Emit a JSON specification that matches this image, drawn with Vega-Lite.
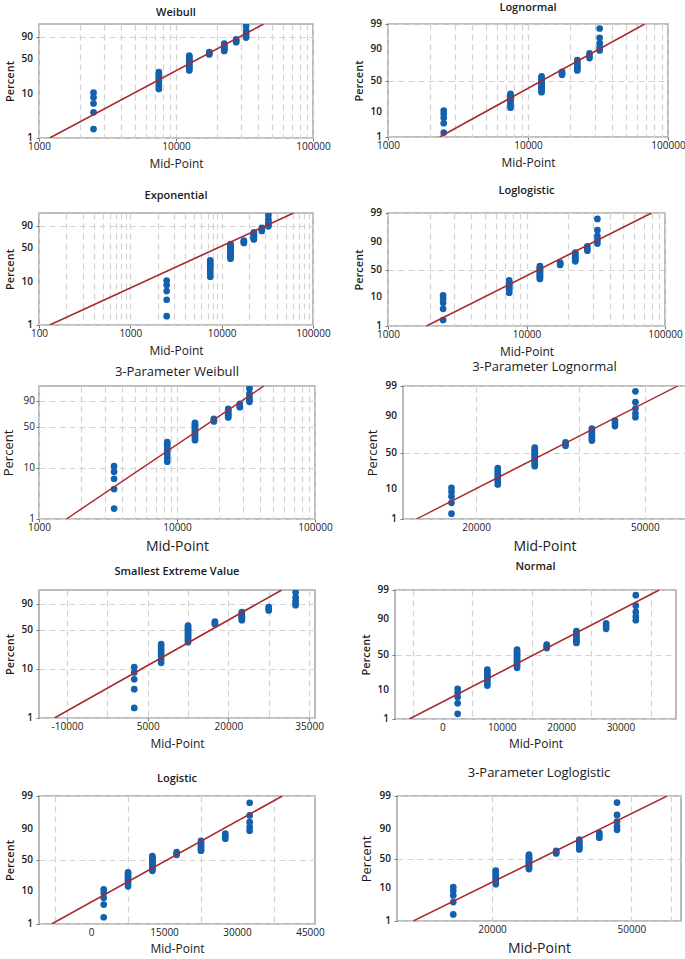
{
"$schema": "https://vega.github.io/schema/vega-lite/v6.json",
"background": "white",
"padding": {"left": 1, "top": 1, "right": 0, "bottom": 0},
"datasets": {
"pts": [
{"i":1,"pct":1.61,"mid":2500,"x3w":3500,"x3n":17500,"x3l":15500,"w":-4.1190,"z":-2.1410,"l":-4.1109},
{"i":2,"pct":3.92,"mid":2500,"x3w":3500,"x3n":17500,"x3l":15500,"w":-3.2199,"z":-1.7600,"l":-3.1999},
{"i":3,"pct":6.22,"mid":2500,"x3w":3500,"x3n":17500,"x3l":15500,"w":-2.7453,"z":-1.5365,"l":-2.7130},
{"i":4,"pct":8.53,"mid":2500,"x3w":3500,"x3n":17500,"x3l":15500,"w":-2.4179,"z":-1.3706,"l":-2.3730},
{"i":5,"pct":10.83,"mid":2500,"x3w":3500,"x3n":17500,"x3l":15500,"w":-2.1662,"z":-1.2357,"l":-2.1084},
{"i":6,"pct":13.13,"mid":7500,"x3w":8500,"x3n":22500,"x3l":20500,"w":-1.9604,"z":-1.1199,"l":-1.8892},
{"i":7,"pct":15.44,"mid":7500,"x3w":8500,"x3n":22500,"x3l":20500,"w":-1.7857,"z":-1.0178,"l":-1.7006},
{"i":8,"pct":17.74,"mid":7500,"x3w":8500,"x3n":22500,"x3l":20500,"w":-1.6332,"z":-0.9253,"l":-1.5339},
{"i":9,"pct":20.05,"mid":7500,"x3w":8500,"x3n":22500,"x3l":20500,"w":-1.4974,"z":-0.8400,"l":-1.3834},
{"i":10,"pct":22.35,"mid":7500,"x3w":8500,"x3n":22500,"x3l":20500,"w":-1.3745,"z":-0.7595,"l":-1.2454},
{"i":11,"pct":24.65,"mid":7500,"x3w":8500,"x3n":22500,"x3l":20500,"w":-1.2620,"z":-0.6854,"l":-1.1171},
{"i":12,"pct":26.96,"mid":7500,"x3w":8500,"x3n":22500,"x3l":20500,"w":-1.1579,"z":-0.6141,"l":-0.9967},
{"i":13,"pct":29.26,"mid":7500,"x3w":8500,"x3n":22500,"x3l":20500,"w":-1.0607,"z":-0.5457,"l":-0.8826},
{"i":14,"pct":31.57,"mid":12500,"x3w":13500,"x3n":27500,"x3l":25500,"w":-0.9694,"z":-0.4798,"l":-0.7737},
{"i":15,"pct":33.87,"mid":12500,"x3w":13500,"x3n":27500,"x3l":25500,"w":-0.8829,"z":-0.4160,"l":-0.6691},
{"i":16,"pct":36.18,"mid":12500,"x3w":13500,"x3n":27500,"x3l":25500,"w":-0.8007,"z":-0.3538,"l":-0.5678},
{"i":17,"pct":38.48,"mid":12500,"x3w":13500,"x3n":27500,"x3l":25500,"w":-0.7220,"z":-0.2929,"l":-0.4693},
{"i":18,"pct":40.78,"mid":12500,"x3w":13500,"x3n":27500,"x3l":25500,"w":-0.6463,"z":-0.2331,"l":-0.3729},
{"i":19,"pct":43.09,"mid":12500,"x3w":13500,"x3n":27500,"x3l":25500,"w":-0.5733,"z":-0.1741,"l":-0.2783},
{"i":20,"pct":45.39,"mid":12500,"x3w":13500,"x3n":27500,"x3l":25500,"w":-0.5025,"z":-0.1158,"l":-0.1848},
{"i":21,"pct":47.70,"mid":12500,"x3w":13500,"x3n":27500,"x3l":25500,"w":-0.4337,"z":-0.0578,"l":-0.0922},
{"i":22,"pct":50.00,"mid":12500,"x3w":13500,"x3n":27500,"x3l":25500,"w":-0.3665,"z":0,"l":0},
{"i":23,"pct":52.30,"mid":12500,"x3w":13500,"x3n":27500,"x3l":25500,"w":-0.3007,"z":0.0578,"l":0.0922},
{"i":24,"pct":54.61,"mid":12500,"x3w":13500,"x3n":27500,"x3l":25500,"w":-0.2359,"z":0.1158,"l":0.1848},
{"i":25,"pct":56.91,"mid":12500,"x3w":13500,"x3n":27500,"x3l":25500,"w":-0.1721,"z":0.1741,"l":0.2783},
{"i":26,"pct":59.22,"mid":17500,"x3w":18500,"x3n":32500,"x3l":30500,"w":-0.1088,"z":0.2331,"l":0.3729},
{"i":27,"pct":61.52,"mid":17500,"x3w":18500,"x3n":32500,"x3l":30500,"w":-0.0460,"z":0.2929,"l":0.4693},
{"i":28,"pct":63.82,"mid":17500,"x3w":18500,"x3n":32500,"x3l":30500,"w":0.0167,"z":0.3538,"l":0.5678},
{"i":29,"pct":66.13,"mid":22500,"x3w":23500,"x3n":37500,"x3l":35500,"w":0.0794,"z":0.4160,"l":0.6691},
{"i":30,"pct":68.43,"mid":22500,"x3w":23500,"x3n":37500,"x3l":35500,"w":0.1424,"z":0.4798,"l":0.7737},
{"i":31,"pct":70.74,"mid":22500,"x3w":23500,"x3n":37500,"x3l":35500,"w":0.2061,"z":0.5457,"l":0.8826},
{"i":32,"pct":73.04,"mid":22500,"x3w":23500,"x3n":37500,"x3l":35500,"w":0.2707,"z":0.6141,"l":0.9967},
{"i":33,"pct":75.35,"mid":22500,"x3w":23500,"x3n":37500,"x3l":35500,"w":0.3366,"z":0.6854,"l":1.1171},
{"i":34,"pct":77.65,"mid":22500,"x3w":23500,"x3n":37500,"x3l":35500,"w":0.4044,"z":0.7595,"l":1.2454},
{"i":35,"pct":79.95,"mid":22500,"x3w":23500,"x3n":37500,"x3l":35500,"w":0.4745,"z":0.8400,"l":1.3834},
{"i":36,"pct":82.26,"mid":27500,"x3w":28500,"x3n":42500,"x3l":40500,"w":0.5477,"z":0.9253,"l":1.5339},
{"i":37,"pct":84.56,"mid":27500,"x3w":28500,"x3n":42500,"x3l":40500,"w":0.6250,"z":1.0178,"l":1.7006},
{"i":38,"pct":86.87,"mid":27500,"x3w":28500,"x3n":42500,"x3l":40500,"w":0.7080,"z":1.1199,"l":1.8892},
{"i":39,"pct":89.17,"mid":32500,"x3w":33500,"x3n":47500,"x3l":45500,"w":0.7988,"z":1.2357,"l":2.1084},
{"i":40,"pct":91.47,"mid":32500,"x3w":33500,"x3n":47500,"x3l":45500,"w":0.9010,"z":1.3706,"l":2.3730},
{"i":41,"pct":93.78,"mid":32500,"x3w":33500,"x3n":47500,"x3l":45500,"w":1.0215,"z":1.5365,"l":2.7130},
{"i":42,"pct":96.08,"mid":32500,"x3w":33500,"x3n":47500,"x3l":45500,"w":1.1755,"z":1.7600,"l":3.1999},
{"i":43,"pct":98.39,"mid":32500,"x3w":33500,"x3n":47500,"x3l":45500,"w":1.4176,"z":2.1410,"l":4.1109}
],
"lines": [
{"p":"weibull","x":1196,"y":-4.6002},{"p":"weibull","x":43650,"y":1.5272},
{"p":"lognormal","x":2339,"y":-2.3263},{"p":"lognormal","x":68100,"y":2.3263},
{"p":"exponential","x":131,"y":-4.6002},{"p":"exponential","x":61400,"y":1.5272},
{"p":"loglogistic","x":1896,"y":-4.5951},{"p":"loglogistic","x":80000,"y":4.5951},
{"p":"weibull3","x":1578,"y":-4.6002},{"p":"weibull3","x":42660,"y":1.5272},
{"p":"lognormal3","x":14470,"y":-2.3263},{"p":"lognormal3","x":59750,"y":2.3263},
{"p":"sev","x":-12327,"y":-4.6002},{"p":"sev","x":29918,"y":1.5272},
{"p":"normal","x":-5634,"y":-2.3263},{"p":"normal","x":36450,"y":2.3263},
{"p":"logistic","x":-8200,"y":-4.5951},{"p":"logistic","x":39230,"y":4.5951},
{"p":"loglogistic3","x":11920,"y":-4.5951},{"p":"loglogistic3","x":63230,"y":4.5951}
],
"yw": [{"v":-4.6002,"t":"1"},{"v":-2.2504,"t":"10"},{"v":-0.3665,"t":"50"},{"v":0.834,"t":"90"}],
"yn": [{"v":-2.3263,"t":"1"},{"v":-1.2816,"t":"10"},{"v":0,"t":"50"},{"v":1.2816,"t":"90"},{"v":2.3263,"t":"99"}],
"yl": [{"v":-4.5951,"t":"1"},{"v":-2.1972,"t":"10"},{"v":0,"t":"50"},{"v":2.1972,"t":"90"},{"v":4.5951,"t":"99"}],
"xn": [{"v":0,"t":"0"},{"v":10000,"t":"10000"},{"v":20000,"t":"20000"},{"v":30000,"t":"30000"}],
"xlg": [{"v":0,"t":"0"},{"v":15000,"t":"15000"},{"v":30000,"t":"30000"},{"v":45000,"t":"45000"}]
},
"vconcat": [
{"hconcat": [
{"title": {"text": "Weibull", "offset": 6},
 "width": 274, "height": 114,
 "layer": [
 {"data": {"name": "pts"}, "mark": {"type": "circle", "size": 45, "opacity": 1, "color": "#1360ae", "clip": true},
  "encoding": {
   "x": {"field": "mid", "type": "quantitative", "title": "Mid-Point", "scale": {"type": "log", "domain": [1000, 100000], "nice": false},
    "axis": {"values": [1000,2000,3000,4000,5000,6000,7000,8000,9000,10000,20000,30000,40000,50000,60000,70000,80000,90000,100000],
     "labelExpr": "indexof([1000,10000,100000], datum.value) >= 0 ? '' + datum.value : ''",
     "tickOpacity": {"condition": {"test": "indexof([1000,10000,100000], datum.value) >= 0", "value": 1}, "value": 0}}},
   "y": {"field": "w", "type": "quantitative", "title": "Percent", "scale": {"domain": [-4.6002, 1.5272], "nice": false, "zero": false},
    "axis": {"labels": false, "values": [-4.6002, -2.2504, -0.3665, 0.834]}}}},
 {"data": {"name": "lines"}, "transform": [{"filter": "datum.p == 'weibull'"}],
  "mark": {"type": "line", "color": "#a8282b", "strokeWidth": 1.6, "clip": true},
  "encoding": {"x": {"field": "x", "type": "quantitative", "title": "Mid-Point"}, "y": {"field": "y", "type": "quantitative", "title": "Percent"}}},
 {"data": {"name": "yw"}, "mark": {"type": "text", "align": "right", "baseline": "middle", "dx": -6, "fontSize": 10, "fontWeight": 600, "color": "#1a1a1a"},
  "encoding": {"x": {"datum": 1000, "type": "quantitative", "title": "Mid-Point"}, "y": {"field": "v", "type": "quantitative", "title": "Percent"}, "text": {"field": "t"}}}
 ]},
{"title": {"text": "Lognormal", "offset": 6},
 "width": 280, "height": 113,
 "layer": [
 {"data": {"name": "pts"}, "mark": {"type": "circle", "size": 45, "opacity": 1, "color": "#1360ae", "clip": true},
  "encoding": {
   "x": {"field": "mid", "type": "quantitative", "title": "Mid-Point", "scale": {"type": "log", "domain": [1000, 100000], "nice": false},
    "axis": {"values": [1000,2000,3000,4000,5000,6000,7000,8000,9000,10000,20000,30000,40000,50000,60000,70000,80000,90000,100000],
     "labelExpr": "indexof([1000,10000,100000], datum.value) >= 0 ? '' + datum.value : ''",
     "tickOpacity": {"condition": {"test": "indexof([1000,10000,100000], datum.value) >= 0", "value": 1}, "value": 0}}},
   "y": {"field": "z", "type": "quantitative", "title": "Percent", "scale": {"domain": [-2.3263, 2.3263], "nice": false, "zero": false},
    "axis": {"labels": false, "values": [-2.3263, -1.2816, 0, 1.2816, 2.3263]}}}},
 {"data": {"name": "lines"}, "transform": [{"filter": "datum.p == 'lognormal'"}],
  "mark": {"type": "line", "color": "#a8282b", "strokeWidth": 1.6, "clip": true},
  "encoding": {"x": {"field": "x", "type": "quantitative", "title": "Mid-Point"}, "y": {"field": "y", "type": "quantitative", "title": "Percent"}}},
 {"data": {"name": "yn"}, "mark": {"type": "text", "align": "right", "baseline": "middle", "dx": -6, "fontSize": 10, "fontWeight": 600, "color": "#1a1a1a"},
  "encoding": {"x": {"datum": 1000, "type": "quantitative", "title": "Mid-Point"}, "y": {"field": "v", "type": "quantitative", "title": "Percent"}, "text": {"field": "t"}}}
 ]}
], "spacing": 21},
{"hconcat": [
{"title": {"text": ["", "Exponential"], "lineHeight": 11.5, "offset": 12.5},
 "width": 274, "height": 112,
 "layer": [
 {"data": {"name": "pts"}, "mark": {"type": "circle", "size": 45, "opacity": 1, "color": "#1360ae", "clip": true},
  "encoding": {
   "x": {"field": "mid", "type": "quantitative", "title": "Mid-Point", "scale": {"type": "log", "domain": [100, 100000], "nice": false},
    "axis": {"values": [100,200,300,400,500,600,700,800,900,1000,2000,3000,4000,5000,6000,7000,8000,9000,10000,20000,30000,40000,50000,60000,70000,80000,90000,100000],
     "labelExpr": "indexof([100,1000,10000,100000], datum.value) >= 0 ? '' + datum.value : ''",
     "tickOpacity": {"condition": {"test": "indexof([100,1000,10000,100000], datum.value) >= 0", "value": 1}, "value": 0}}},
   "y": {"field": "w", "type": "quantitative", "title": "Percent", "scale": {"domain": [-4.6002, 1.5272], "nice": false, "zero": false},
    "axis": {"labels": false, "values": [-4.6002, -2.2504, -0.3665, 0.834]}}}},
 {"data": {"name": "lines"}, "transform": [{"filter": "datum.p == 'exponential'"}],
  "mark": {"type": "line", "color": "#a8282b", "strokeWidth": 1.6, "clip": true},
  "encoding": {"x": {"field": "x", "type": "quantitative", "title": "Mid-Point"}, "y": {"field": "y", "type": "quantitative", "title": "Percent"}}},
 {"data": {"name": "yw"}, "mark": {"type": "text", "align": "right", "baseline": "middle", "dx": -6, "fontSize": 10, "fontWeight": 600, "color": "#1a1a1a"},
  "encoding": {"x": {"datum": 100, "type": "quantitative", "title": "Mid-Point"}, "y": {"field": "v", "type": "quantitative", "title": "Percent"}, "text": {"field": "t"}}}
 ]},
{"title": {"text": ["", "Loglogistic"], "lineHeight": 11.5, "offset": 12.5},
 "width": 277, "height": 113,
 "layer": [
 {"data": {"name": "pts"}, "mark": {"type": "circle", "size": 45, "opacity": 1, "color": "#1360ae", "clip": true},
  "encoding": {
   "x": {"field": "mid", "type": "quantitative", "title": "Mid-Point", "scale": {"type": "log", "domain": [1000, 100000], "nice": false},
    "axis": {"values": [1000,2000,3000,4000,5000,6000,7000,8000,9000,10000,20000,30000,40000,50000,60000,70000,80000,90000,100000],
     "labelExpr": "indexof([1000,10000,100000], datum.value) >= 0 ? '' + datum.value : ''",
     "tickOpacity": {"condition": {"test": "indexof([1000,10000,100000], datum.value) >= 0", "value": 1}, "value": 0}}},
   "y": {"field": "l", "type": "quantitative", "title": "Percent", "scale": {"domain": [-4.5951, 4.5951], "nice": false, "zero": false},
    "axis": {"labels": false, "values": [-4.5951, -2.1972, 0, 2.1972, 4.5951]}}}},
 {"data": {"name": "lines"}, "transform": [{"filter": "datum.p == 'loglogistic'"}],
  "mark": {"type": "line", "color": "#a8282b", "strokeWidth": 1.6, "clip": true},
  "encoding": {"x": {"field": "x", "type": "quantitative", "title": "Mid-Point"}, "y": {"field": "y", "type": "quantitative", "title": "Percent"}}},
 {"data": {"name": "yl"}, "mark": {"type": "text", "align": "right", "baseline": "middle", "dx": -6, "fontSize": 10, "fontWeight": 600, "color": "#1a1a1a"},
  "encoding": {"x": {"datum": 1000, "type": "quantitative", "title": "Mid-Point"}, "y": {"field": "v", "type": "quantitative", "title": "Percent"}, "text": {"field": "t"}}}
 ]}
], "spacing": 21},
{"hconcat": [
{"title": {"text": "3-Parameter Weibull", "offset": 7, "fontSize": 13, "fontWeight": 400},
 "width": 276, "height": 133,
 "layer": [
 {"data": {"name": "pts"}, "mark": {"type": "circle", "size": 45, "opacity": 1, "color": "#1360ae", "clip": true},
  "encoding": {
   "x": {"field": "x3w", "type": "quantitative", "title": "Mid-Point", "scale": {"type": "log", "domain": [1000, 100000], "nice": false},
    "axis": {"titleFontSize": 14, "values": [1000,2000,3000,4000,5000,6000,7000,8000,9000,10000,20000,30000,40000,50000,60000,70000,80000,90000,100000],
     "labelExpr": "indexof([1000,10000,100000], datum.value) >= 0 ? '' + datum.value : ''",
     "tickOpacity": {"condition": {"test": "indexof([1000,10000,100000], datum.value) >= 0", "value": 1}, "value": 0}}},
   "y": {"field": "w", "type": "quantitative", "title": "Percent", "scale": {"domain": [-4.6002, 1.5272], "nice": false, "zero": false},
    "axis": {"labels": false, "titleFontSize": 13, "titleFontWeight": 400, "values": [-4.6002, -2.2504, -0.3665, 0.834]}}}},
 {"data": {"name": "lines"}, "transform": [{"filter": "datum.p == 'weibull3'"}],
  "mark": {"type": "line", "color": "#a8282b", "strokeWidth": 1.4, "clip": true},
  "encoding": {"x": {"field": "x", "type": "quantitative", "title": "Mid-Point"}, "y": {"field": "y", "type": "quantitative", "title": "Percent"}}},
 {"data": {"name": "yw"}, "mark": {"type": "text", "align": "right", "baseline": "middle", "dx": -4, "fontSize": 10, "fontWeight": 400, "color": "#1a1a1a"},
  "encoding": {"x": {"datum": 1000, "type": "quantitative", "title": "Mid-Point"}, "y": {"field": "v", "type": "quantitative", "title": "Percent"}, "text": {"field": "t"}}}
 ]},
{"title": {"text": "3-Parameter Lognormal", "offset": 7, "fontSize": 13, "fontWeight": 400},
 "width": 283, "height": 133,
 "layer": [
 {"data": {"name": "pts"}, "mark": {"type": "circle", "size": 45, "opacity": 1, "color": "#1360ae", "clip": true},
  "encoding": {
   "x": {"field": "x3n", "type": "quantitative", "title": "Mid-Point", "scale": {"type": "log", "domain": [13450, 62500], "nice": false},
    "axis": {"titleFontSize": 14, "values": [20000, 35000, 50000],
     "labelExpr": "indexof([20000,50000], datum.value) >= 0 ? '' + datum.value : ''",
     "tickOpacity": 0}},
   "y": {"field": "z", "type": "quantitative", "title": "Percent", "scale": {"domain": [-2.3263, 2.3263], "nice": false, "zero": false},
    "axis": {"labels": false, "titleFontSize": 13, "titleFontWeight": 400, "values": [-2.3263, -1.2816, 0, 1.2816, 2.3263]}}}},
 {"data": {"name": "lines"}, "transform": [{"filter": "datum.p == 'lognormal3'"}],
  "mark": {"type": "line", "color": "#a8282b", "strokeWidth": 1.4, "clip": true},
  "encoding": {"x": {"field": "x", "type": "quantitative", "title": "Mid-Point"}, "y": {"field": "y", "type": "quantitative", "title": "Percent"}}},
 {"data": {"name": "yn"}, "mark": {"type": "text", "align": "right", "baseline": "middle", "dx": -6, "fontSize": 10, "fontWeight": 600, "color": "#1a1a1a"},
  "encoding": {"x": {"datum": 13450, "type": "quantitative", "title": "Mid-Point"}, "y": {"field": "v", "type": "quantitative", "title": "Percent"}, "text": {"field": "t"}}}
 ]}
], "spacing": 32},
{"hconcat": [
{"title": {"text": ["", "Smallest Extreme Value"], "lineHeight": 4, "offset": 13},
 "width": 276, "height": 128,
 "layer": [
 {"data": {"name": "pts"}, "mark": {"type": "circle", "size": 45, "opacity": 1, "color": "#1360ae", "clip": true},
  "encoding": {
   "x": {"field": "mid", "type": "quantitative", "title": "Mid-Point", "scale": {"domain": [-15200, 36100], "nice": false, "zero": false},
    "axis": {"values": [-10000, -2500, 5000, 12500, 20000, 27500, 35000],
     "labelExpr": "indexof([-10000,5000,20000,35000], datum.value) >= 0 ? '' + datum.value : ''",
     "tickOpacity": {"condition": {"test": "indexof([-10000,5000,20000,35000], datum.value) >= 0", "value": 1}, "value": 0}}},
   "y": {"field": "w", "type": "quantitative", "title": "Percent", "scale": {"domain": [-4.6002, 1.5272], "nice": false, "zero": false},
    "axis": {"labels": false, "values": [-4.6002, -2.2504, -0.3665, 0.834]}}}},
 {"data": {"name": "lines"}, "transform": [{"filter": "datum.p == 'sev'"}],
  "mark": {"type": "line", "color": "#a8282b", "strokeWidth": 1.6, "clip": true},
  "encoding": {"x": {"field": "x", "type": "quantitative", "title": "Mid-Point"}, "y": {"field": "y", "type": "quantitative", "title": "Percent"}}},
 {"data": {"name": "yw"}, "mark": {"type": "text", "align": "right", "baseline": "middle", "dx": -6, "fontSize": 10, "fontWeight": 600, "color": "#1a1a1a"},
  "encoding": {"x": {"datum": -15200, "type": "quantitative", "title": "Mid-Point"}, "y": {"field": "v", "type": "quantitative", "title": "Percent"}, "text": {"field": "t"}}}
 ]},
{"title": {"text": ["", "Normal"], "lineHeight": 4, "offset": 13},
 "width": 281, "height": 129,
 "layer": [
 {"data": {"name": "pts"}, "mark": {"type": "circle", "size": 45, "opacity": 1, "color": "#1360ae", "clip": true},
  "encoding": {
   "x": {"field": "mid", "type": "quantitative", "title": "Mid-Point", "scale": {"domain": [-8050, 39270], "nice": false, "zero": false},
    "axis": {"labels": false, "titlePadding": 16, "values": [-5000, 0, 5000, 10000, 15000, 20000, 25000, 30000, 35000],
     "tickOpacity": {"condition": {"test": "indexof([0,10000,20000,30000], datum.value) >= 0", "value": 1}, "value": 0}}},
   "y": {"field": "z", "type": "quantitative", "title": "Percent", "scale": {"domain": [-2.3263, 2.3263], "nice": false, "zero": false},
    "axis": {"labels": false, "values": [-2.3263, -1.2816, 0, 1.2816, 2.3263]}}}},
 {"data": {"name": "lines"}, "transform": [{"filter": "datum.p == 'normal'"}],
  "mark": {"type": "line", "color": "#a8282b", "strokeWidth": 1.6, "clip": true},
  "encoding": {"x": {"field": "x", "type": "quantitative", "title": "Mid-Point"}, "y": {"field": "y", "type": "quantitative", "title": "Percent"}}},
 {"data": {"name": "yn"}, "mark": {"type": "text", "align": "right", "baseline": "middle", "dx": -6, "fontSize": 10, "fontWeight": 600, "color": "#1a1a1a"},
  "encoding": {"x": {"datum": -8050, "type": "quantitative", "title": "Mid-Point"}, "y": {"field": "v", "type": "quantitative", "title": "Percent"}, "text": {"field": "t"}}},
 {"data": {"name": "xn"}, "mark": {"type": "text", "align": "center", "baseline": "top", "dy": 4, "fontSize": 10, "color": "#1a1a1a"},
  "encoding": {"x": {"field": "v", "type": "quantitative", "title": "Mid-Point"}, "y": {"datum": -2.3263, "type": "quantitative", "title": "Percent"}, "text": {"field": "t"}}}
 ]}
], "spacing": 34},
{"hconcat": [
{"title": {"text": ["", "Logistic"], "lineHeight": 18.5, "offset": 7.5},
 "width": 276, "height": 128,
 "layer": [
 {"data": {"name": "pts"}, "mark": {"type": "circle", "size": 45, "opacity": 1, "color": "#1360ae", "clip": true},
  "encoding": {
   "x": {"field": "mid", "type": "quantitative", "title": "Mid-Point", "scale": {"domain": [-10800, 45930], "nice": false, "zero": false},
    "axis": {"labels": false, "titlePadding": 16, "values": [-7500, 0, 7500, 15000, 22500, 30000, 37500, 45000],
     "tickOpacity": {"condition": {"test": "indexof([0,15000,30000,45000], datum.value) >= 0", "value": 1}, "value": 0}}},
   "y": {"field": "l", "type": "quantitative", "title": "Percent", "scale": {"domain": [-4.5951, 4.5951], "nice": false, "zero": false},
    "axis": {"labels": false, "values": [-4.5951, -2.1972, 0, 2.1972, 4.5951]}}}},
 {"data": {"name": "lines"}, "transform": [{"filter": "datum.p == 'logistic'"}],
  "mark": {"type": "line", "color": "#a8282b", "strokeWidth": 1.6, "clip": true},
  "encoding": {"x": {"field": "x", "type": "quantitative", "title": "Mid-Point"}, "y": {"field": "y", "type": "quantitative", "title": "Percent"}}},
 {"data": {"name": "yl"}, "mark": {"type": "text", "align": "right", "baseline": "middle", "dx": -6, "fontSize": 10, "fontWeight": 600, "color": "#1a1a1a"},
  "encoding": {"x": {"datum": -10800, "type": "quantitative", "title": "Mid-Point"}, "y": {"field": "v", "type": "quantitative", "title": "Percent"}, "text": {"field": "t"}}},
 {"data": {"name": "xlg"}, "mark": {"type": "text", "align": "center", "baseline": "top", "dy": 4, "fontSize": 10, "color": "#1a1a1a"},
  "encoding": {"x": {"field": "v", "type": "quantitative", "title": "Mid-Point"}, "y": {"datum": -4.5951, "type": "quantitative", "title": "Percent"}, "text": {"field": "t"}}}
 ]},
{"title": {"text": ["", "3-Parameter Loglogistic"], "lineHeight": 14, "offset": 11, "fontSize": 13, "fontWeight": 400},
 "width": 284, "height": 125,
 "layer": [
 {"data": {"name": "pts"}, "mark": {"type": "circle", "size": 45, "opacity": 1, "color": "#1360ae", "clip": true},
  "encoding": {
   "x": {"field": "x3l", "type": "quantitative", "title": "Mid-Point", "scale": {"type": "log", "domain": [10707, 69300], "nice": false},
    "axis": {"titleFontSize": 14, "values": [20000, 35000, 50000, 65000],
     "labelExpr": "indexof([20000,50000], datum.value) >= 0 ? '' + datum.value : ''",
     "tickOpacity": 0}},
   "y": {"field": "l", "type": "quantitative", "title": "Percent", "scale": {"domain": [-4.5951, 4.5951], "nice": false, "zero": false},
    "axis": {"labels": false, "titleFontSize": 13, "titleFontWeight": 400, "values": [-4.5951, -2.1972, 0, 2.1972, 4.5951]}}}},
 {"data": {"name": "lines"}, "transform": [{"filter": "datum.p == 'loglogistic3'"}],
  "mark": {"type": "line", "color": "#a8282b", "strokeWidth": 1.4, "clip": true},
  "encoding": {"x": {"field": "x", "type": "quantitative", "title": "Mid-Point"}, "y": {"field": "y", "type": "quantitative", "title": "Percent"}}},
 {"data": {"name": "yl"}, "mark": {"type": "text", "align": "right", "baseline": "middle", "dx": -6, "fontSize": 10, "fontWeight": 600, "color": "#1a1a1a"},
  "encoding": {"x": {"datum": 10707, "type": "quantitative", "title": "Mid-Point"}, "y": {"field": "v", "type": "quantitative", "title": "Percent"}, "text": {"field": "t"}}}
 ]}
], "spacing": 33}
],
"spacing": 2,
"config": {
 "font": "Open Sans",
 "view": {"stroke": "#a9a9a9", "strokeWidth": 1.6},
 "title": {"font": "Open Sans", "fontSize": 11, "fontWeight": 600, "color": "#1a1a1a"},
 "text": {"font": "Open Sans"},
 "axis": {"domain": false, "grid": true, "gridColor": "#d3d3d3", "gridDash": [6, 4], "gridWidth": 1.2,
  "tickColor": "#777777", "tickSize": 3, "labelPadding": 2, "labelFlush": false, "labelOverlap": false,
  "labelColor": "#1a1a1a", "titleColor": "#1a1a1a", "labelFont": "Open Sans", "titleFont": "Open Sans"},
 "axisX": {"labelFontSize": 10, "labelFontWeight": 400, "labelPadding": 0, "titleFontSize": 12, "titleFontWeight": 400, "titlePadding": 7},
 "axisY": {"titleFontSize": 11, "titleFontWeight": 600, "titlePadding": 20}
}
}
